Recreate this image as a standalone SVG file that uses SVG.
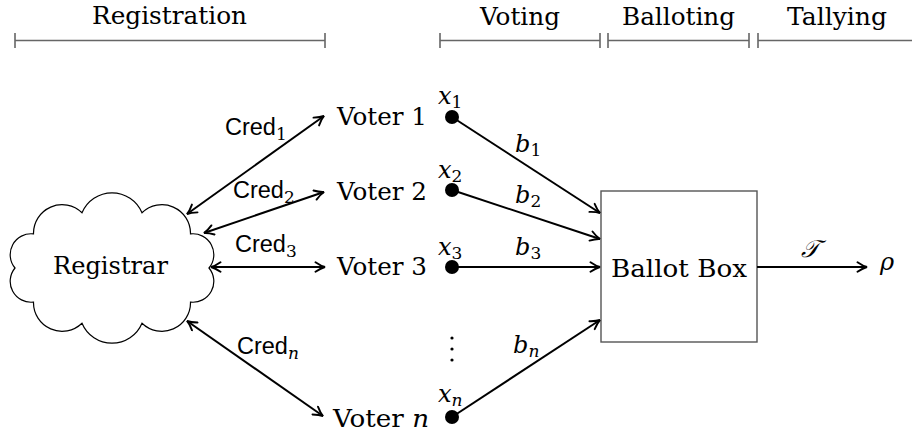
<svg xmlns="http://www.w3.org/2000/svg" width="912" height="436" viewBox="0 0 912 436">
<style>
.rm{font-family:'DejaVu Serif';font-size:24px;fill:#000}
.it{font-family:'DejaVu Serif';font-style:italic;font-size:24px;fill:#000}
.sub{font-size:17px}
.sf{font-family:'Liberation Sans',sans-serif;font-size:23.5px;fill:#000}
.tl{stroke:#666;stroke-width:1.6;fill:none}
.arr{stroke:#000;stroke-width:2;fill:none;marker-end:url(#ah)}
.dbl{stroke:#000;stroke-width:2;fill:none;marker-end:url(#ah);marker-start:url(#ah)}
</style>
<defs>
<marker id="ah" viewBox="-11 -6 12 12" refX="0" refY="0" markerWidth="12" markerHeight="12" markerUnits="userSpaceOnUse" orient="auto-start-reverse">
<path d="M-9.5,-4.8 Q-4,-1 0,0 Q-4,1 -9.5,4.8" fill="none" stroke="#000" stroke-width="1.9" stroke-linecap="round"/>
</marker>
</defs>
<rect width="912" height="436" fill="#fff"/>

<g id="timeline">
<path class="tl" d="M15,40.5H325M15,33V48M325,33V48"/>
<path class="tl" d="M440,40.5H600M440,33V48M600,33V48"/>
<path class="tl" d="M608,40.5H749M608,33V48M749,33V48"/>
<path class="tl" d="M758,40.5H912M758,33V48"/>
<text class="rm" x="92" y="24" textLength="155" lengthAdjust="spacingAndGlyphs">Registration</text>
<text class="rm" x="480" y="25" textLength="80" lengthAdjust="spacingAndGlyphs">Voting</text>
<text class="rm" x="622" y="25" textLength="113" lengthAdjust="spacingAndGlyphs">Balloting</text>
<text class="rm" x="787" y="25" textLength="100" lengthAdjust="spacingAndGlyphs">Tallying</text>
</g>

<g id="registrar">
<path d="M209,268 A20.9,20.9 0 0 0 190.5,233.9 A28.6,28.6 0 0 0 142,212.8 A32.5,32.5 0 0 0 82,212.8 A28.6,28.6 0 0 0 33.5,233.9 A20.9,20.9 0 0 0 15,268 A20.9,20.9 0 0 0 33.5,302.1 A28.6,28.6 0 0 0 82,323.2 A32.5,32.5 0 0 0 142,323.2 A28.6,28.6 0 0 0 190.5,302.1 A20.9,20.9 0 0 0 209,268 Z" fill="#fff" stroke="#000" stroke-width="1.2"/>
<text class="rm" x="53" y="274" textLength="115" lengthAdjust="spacingAndGlyphs">Registrar</text>
</g>

<g id="voter1">
<text class="rm" x="337" y="125" textLength="90" lengthAdjust="spacingAndGlyphs">Voter 1</text>
<circle cx="452" cy="117" r="7"/>
<text class="it" x="438" y="104">x<tspan class="sub" font-style="normal" dy="4">1</tspan></text>
</g>
<g id="voter2">
<text class="rm" x="337" y="200" textLength="90" lengthAdjust="spacingAndGlyphs">Voter 2</text>
<circle cx="452" cy="190" r="7"/>
<text class="it" x="438" y="178">x<tspan class="sub" font-style="normal" dy="4">2</tspan></text>
</g>
<g id="voter3">
<text class="rm" x="337" y="275" textLength="90" lengthAdjust="spacingAndGlyphs">Voter 3</text>
<circle cx="452" cy="267" r="7"/>
<text class="it" x="438" y="255">x<tspan class="sub" font-style="normal" dy="4">3</tspan></text>
</g>
<g id="vdots">
<circle cx="452" cy="338" r="1.6"/>
<circle cx="452" cy="349" r="1.6"/>
<circle cx="452" cy="360" r="1.6"/>
</g>
<g id="votern">
<text class="rm" x="333" y="427" textLength="96" lengthAdjust="spacingAndGlyphs">Voter <tspan font-style="italic">n</tspan></text>
<circle cx="452" cy="417" r="7"/>
<text class="it" x="438" y="402">x<tspan class="sub" dy="4">n</tspan></text>
</g>

<g id="ballotbox">
<rect x="601" y="191" width="156" height="151" fill="#fff" stroke="#555" stroke-width="1.4"/>
<text class="rm" x="611" y="277" textLength="136" lengthAdjust="spacingAndGlyphs">Ballot Box</text>
</g>

<g id="result">
<text class="it" x="880" y="270">ρ</text>
</g>

<g id="connectors">
<line class="dbl" x1="187" y1="214" x2="324" y2="116"/>
<line class="dbl" x1="204" y1="233" x2="324" y2="192"/>
<line class="dbl" x1="211" y1="267" x2="325" y2="267"/>
<line class="dbl" x1="187" y1="321" x2="323" y2="416"/>
<line class="arr" x1="452" y1="117" x2="600" y2="213"/>
<line class="arr" x1="452" y1="190" x2="600" y2="239"/>
<line class="arr" x1="452" y1="267" x2="600" y2="267"/>
<line class="arr" x1="452" y1="417" x2="600" y2="320"/>
<line class="arr" x1="757" y1="267" x2="867" y2="267"/>
<text class="sf" x="225" y="135">Cred<tspan class="sub" style="font-family:'DejaVu Serif'" dy="5">1</tspan></text>
<text class="sf" x="233" y="198">Cred<tspan class="sub" style="font-family:'DejaVu Serif'" dy="5">2</tspan></text>
<text class="sf" x="235" y="252">Cred<tspan class="sub" style="font-family:'DejaVu Serif'" dy="5">3</tspan></text>
<text class="sf" x="237" y="354">Cred<tspan class="sub" dy="5" style="font-family:'DejaVu Serif';font-style:italic">n</tspan></text>
<text class="it" x="515" y="152">b<tspan class="sub" font-style="normal" dy="4">1</tspan></text>
<text class="it" x="515" y="203">b<tspan class="sub" font-style="normal" dy="4">2</tspan></text>
<text class="it" x="515" y="255">b<tspan class="sub" font-style="normal" dy="4">3</tspan></text>
<text class="it" x="513" y="353">b<tspan class="sub" dy="4">n</tspan></text>
<text class="it" x="801" y="257">𝒯</text>
</g>
</svg>
